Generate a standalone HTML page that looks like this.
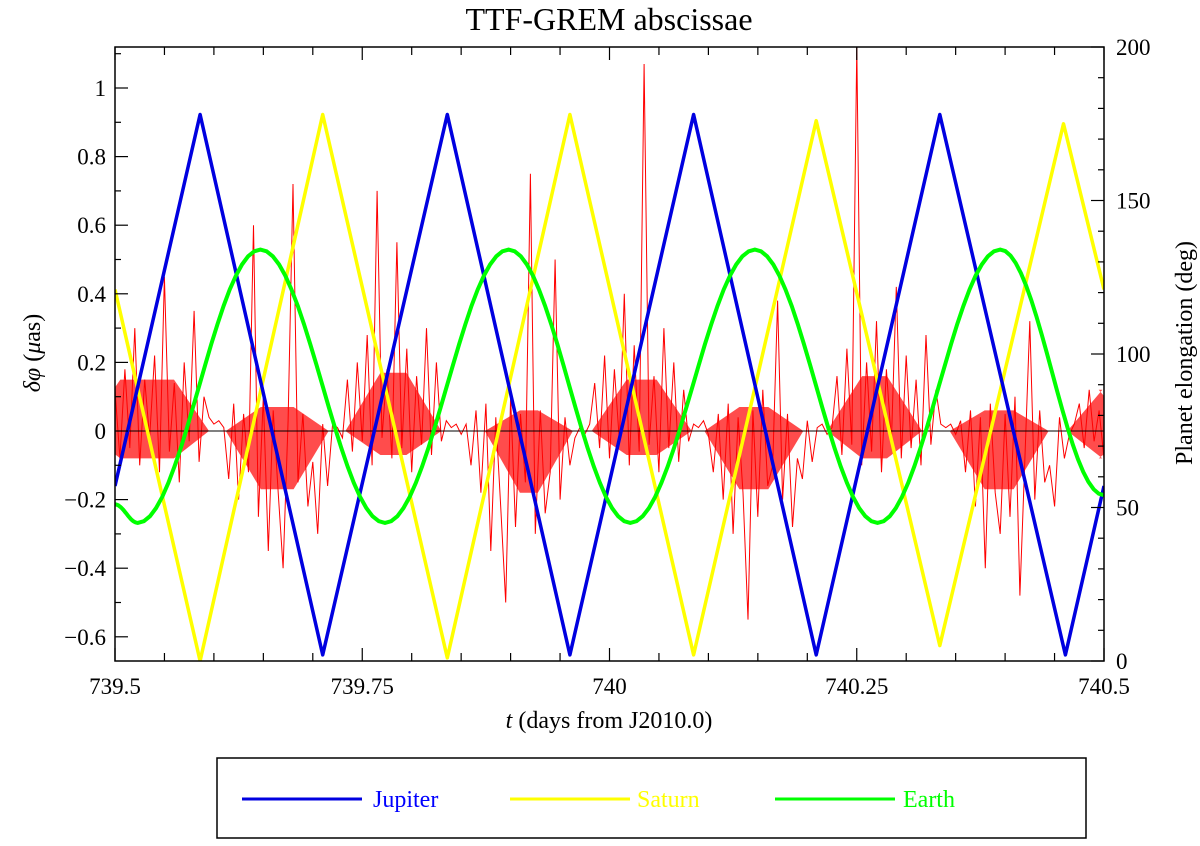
<!DOCTYPE html>
<html><head><meta charset="utf-8"><style>
body{margin:0;background:#fff;}
svg text{font-family:"Liberation Serif",serif;fill:#000;}
</style></head><body>
<svg id="chart" width="1200" height="841" viewBox="0 0 1200 841" xmlns="http://www.w3.org/2000/svg">
<text x="609" y="30" font-size="32" text-anchor="middle">TTF-GREM abscissae</text>
<g id="plot"></g>
<g id="axes"></g>
<text x="609" y="728" font-size="24" text-anchor="middle"><tspan font-style="italic">t</tspan> (days from J2010.0)</text>
<text transform="translate(40,353) rotate(-90)" font-size="24" text-anchor="middle"><tspan font-style="italic">δφ</tspan> (<tspan font-style="italic">μ</tspan>as)</text>
<text transform="translate(1192,353) rotate(-90)" font-size="24" text-anchor="middle">Planet elongation (deg)</text>
<g>
<rect x="217" y="758" width="869" height="80" fill="#fff" stroke="#000" stroke-width="1.5"/>
<line x1="242" y1="799" x2="362" y2="799" stroke="#0000e0" stroke-width="3"/>
<text x="373" y="807" font-size="24" style="fill:#0000ff">Jupiter</text>
<line x1="510" y1="799" x2="630" y2="799" stroke="#ffff00" stroke-width="3"/>
<text x="637" y="807" font-size="24" style="fill:#ffff00">Saturn</text>
<line x1="775" y1="799" x2="895" y2="799" stroke="#00ff00" stroke-width="3"/>
<text x="903" y="807" font-size="24" style="fill:#00ff00">Earth</text>
</g>
</svg>
<script>
// Data
const jupiterT=[739.5,739.586,739.710,739.836,739.960,740.085,740.209,740.334,740.461,740.5];
const jupiterV=[57,178,2,178,2,178,2,178,2,57];
const saturnT=[739.5,739.586,739.710,739.836,739.960,740.085,740.209,740.334,740.459,740.5];
const saturnV=[121,0,178,1,178,2,176,5,175,121];
const earthT=[739.5,739.523,739.647,739.773,739.898,740.021,740.147,740.271,740.395,740.5];
const earthV=[51,45,134,45,134,45,134,45,134,54];
const bandStart=[739.47,739.612,739.733,739.874,739.982,740.096,740.220,740.344,740.463];
const bandEnd=[739.595,739.716,739.830,739.963,740.083,740.196,740.316,740.444,740.53];
const bandHi=[0.15,0.07,0.17,0.06,0.15,0.07,0.16,0.06,0.12];
const bandLo=[-0.08,-0.17,-0.07,-0.18,-0.07,-0.17,-0.08,-0.17,-0.08];
const noiseT0=739.5, noiseStep=0.005;
const noise=[
 12,-8,18,-5,30,-10,15,-2,22,-12,45,-6,14,-15,20,-3,35,-9,10,
 4,2,3,1,
 -14,8,-20,5,-12,60,-25,10,-35,6,-18,-40,3,72,-15,5,-22,-9,-30,2,-16,
 2,1,-2,
 15,-6,20,-3,28,-10,70,-2,18,-8,55,-5,24,-12,16,-4,30,-7,20,-3,
 3,1,2,-1,2,
 -10,6,-18,8,-35,4,-22,-50,10,-28,5,-15,75,-30,6,-24,-12,50,-20,4,-10,
 -2,1,-1,2,
 14,-5,22,-8,18,-3,40,-10,25,-6,107,-4,16,-12,30,-5,20,-9,12,-3,
 2,1,3,-1,
 -12,5,-20,8,-30,4,-18,-55,6,-25,12,-16,-10,38,-20,5,-28,-8,-14,3,-9,
 1,2,-1,1,
 16,-7,24,-4,112,-10,20,-6,32,-12,18,-3,42,-8,22,-5,15,-10,28,-4,12,
 2,1,2,-1,3,
 -12,6,-22,4,-40,8,-18,-30,5,-25,10,-48,-8,32,-20,6,-15,-10,-22,4,-8,
 -1,2,
 8,-5,12,-3,6,-8
];
const leftTicks=[-0.6,-0.4,-0.2,0,0.2,0.4,0.6,0.8,1];
const leftTickLabels=["\u22120.6","\u22120.4","\u22120.2","0","0.2","0.4","0.6","0.8","1"];
const rightTicks=[0,50,100,150,200];
const xTicks=[739.5,739.75,740,740.25,740.5];
const xTickLabels=["739.5","739.75","740","740.25","740.5"];

const L=115,R=1104,T=47,B=661;
const xs=t=>L+(t-739.5)*(R-L)/1.0;
const yl=v=>431-v*343;
const yr=v=>B-v*(B-T)/200;
const NS="http://www.w3.org/2000/svg";
const plot=document.getElementById('plot'), axes=document.getElementById('axes');
function mk(tag,attrs,parent){const e=document.createElementNS(NS,tag);for(const k in attrs)e.setAttribute(k,attrs[k]);parent.appendChild(e);return e;}

const defs=mk('defs',{},plot);
const cp=mk('clipPath',{id:'clip'},defs);
mk('rect',{x:L,y:T,width:R-L,height:B-T},cp);
const g=mk('g',{'clip-path':'url(#clip)'},plot);

bandStart.forEach((s,i)=>{
  const x0=xs(s),x1=xs(bandEnd[i]),r=35;
  const p=[[x0,yl(0)],[x0+r,yl(bandHi[i])],[x1-r,yl(bandHi[i])],[x1,yl(0)],[x1-r,yl(bandLo[i])],[x0+r,yl(bandLo[i])]].map(q=>q[0].toFixed(1)+','+q[1].toFixed(1)).join(' ');
  const b=mk('polygon',{points:p,fill:'#ff0000','fill-opacity':0.7},g);
  
  
});

let pts=noise.map((v,i)=>xs(noiseT0+i*noiseStep).toFixed(1)+','+yl(v/100).toFixed(1)).join(' ');
const nl=mk('polyline',{points:pts,fill:'none',stroke:'#ff0000','stroke-width':1},g);



const z=mk('line',{x1:L,x2:R,y1:yl(0),y2:yl(0),stroke:'#000','stroke-width':1},g);



function poly(T_,V_,color,name){
  const p=T_.map((t,i)=>xs(t).toFixed(1)+','+yr(V_[i]).toFixed(1)).join(' ');
  const e=mk('polyline',{points:p,fill:'none',stroke:color,'stroke-width':3.5,'stroke-linejoin':'round'},g);
  
  
}
poly(saturnT,saturnV,'#ffff00','saturn-series');
poly(jupiterT,jupiterV,'#0000e0','jupiter-series');
let ep=[];
for(let i=0;i<earthT.length-1;i++){
  for(let k=0;k<20;k++){const f=k/20,w=(1-Math.cos(Math.PI*f))/2;
    const t=earthT[i]+(earthT[i+1]-earthT[i])*f, v=earthV[i]+(earthV[i+1]-earthV[i])*w;
    ep.push(xs(t).toFixed(1)+','+yr(v).toFixed(1));}
}
ep.push(xs(earthT[earthT.length-1]).toFixed(1)+','+yr(earthV[earthV.length-1]).toFixed(1));
const ee=mk('polyline',{points:ep.join(' '),fill:'none',stroke:'#00ff00','stroke-width':4},g);



const fr=mk('rect',{x:L,y:T,width:R-L,height:B-T,fill:'none',stroke:'#000','stroke-width':1.5},axes);


function tk(x1,y1,x2,y2){mk('line',{x1,y1,x2,y2,stroke:'#000','stroke-width':1.2},axes);}
for(let v=-0.6;v<=1.1;v+=0.1){const y=yl(v);const maj=Math.abs(Math.round(v*10)%2)===0;tk(L,y,L+(maj?13:6),y);}
leftTicks.forEach((v,i)=>{const t=mk('text',{x:L-9,y:yl(v)+8,'font-size':23,'text-anchor':'end'},axes);t.textContent=leftTickLabels[i];

});
for(let v=0;v<=200;v+=10){const y=yr(v);const maj=v%50===0;tk(R,y,R-(maj?13:6),y);}
rightTicks.forEach(v=>{const t=mk('text',{x:R+12,y:yr(v)+8,'font-size':23},axes);t.textContent=String(v);

});
for(let i=0;i<=20;i++){const x=xs(739.5+i*0.05);const maj=i%5===0;const l=maj?13:8;tk(x,B,x,B-l);tk(x,T,x,T+l);}
xTicks.forEach((v,i)=>{const t=mk('text',{x:xs(v),y:B+33,'font-size':23,'text-anchor':'middle'},axes);t.textContent=xTickLabels[i];

});
</script>
</body></html>
